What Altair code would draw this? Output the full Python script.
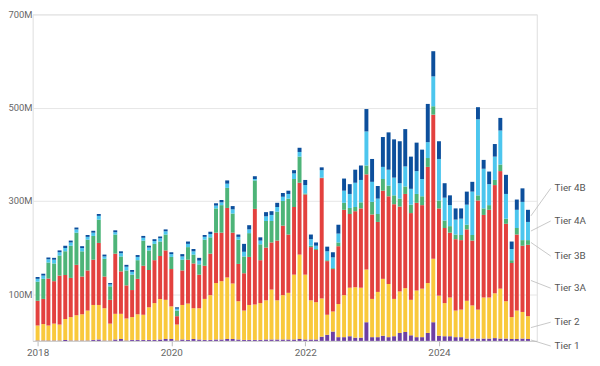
import altair as alt
import pandas as pd

# ---- data (values in millions), monthly Jan 2018 .. May 2025 ----
months = pd.date_range("2018-01-01", periods=89, freq="MS").strftime("%Y-%m-%d").tolist()

tiers = ["Tier 1", "Tier 2", "Tier 3A", "Tier 3B", "Tier 4A", "Tier 4B"]
colors = ["#6d3fa3", "#f9c93c", "#e3413e", "#4db478", "#4cc6ee", "#0c4f9c"]

tier1 = [1, 1, 1, 1, 1, 2, 1, 1, 1, 1, 2, 3, 1, 1, 3, 4, 1, 2, 2, 2, 2, 2, 3, 4,
         4, 1, 3, 2, 4, 3, 2, 2, 3, 3, 4, 4, 3, 2, 2, 2, 2, 3, 3, 3, 3, 3, 3, 4,
         3, 3, 3, 9, 13, 20, 8, 8, 10, 7, 7, 40, 8, 8, 11, 8, 10, 17, 19, 12, 8, 8,
         17, 40, 11, 10, 10, 8, 8, 5, 5, 5, 5, 5, 6, 5, 5, 4, 4, 5, 4]
tier2 = [32, 35, 32, 36, 34, 45, 50, 54, 56, 64, 75, 74, 69, 36, 55, 54, 47, 49, 55, 54,
         70, 79, 87, 84, 70, 34, 74, 78, 66, 67, 88, 96, 121, 125, 132, 119, 82, 63, 75, 76,
         79, 84, 107, 84, 95, 100, 139, 181, 139, 84, 80, 82, 43, 43, 71, 90, 104, 108, 107, 113,
         82, 97, 122, 114, 80, 89, 94, 76, 100, 104, 107, 136, 86, 71, 83, 57, 59, 81, 71, 62,
         88, 88, 96, 107, 80, 47, 61, 57, 49]
tier3a = [53, 54, 101, 91, 105, 94, 84, 108, 81, 86, 97, 133, 68, 51, 129, 91, 71, 58, 76, 105,
          80, 92, 92, 106, 80, 18, 74, 94, 96, 72, 71, 89, 108, 104, 149, 109, 80, 80, 103, 205,
          92, 113, 101, 128, 149, 125, 145, 154, 172, 114, 112, 258, 115, 91, 124, 183, 158, 163, 170, 204,
          181, 150, 189, 188, 203, 182, 202, 186, 188, 179, 249, 309, 187, 161, 139, 153, 149, 153, 139, 234,
          177, 188, 232, 252, 166, 116, 163, 142, 153]
tier3b = [41, 43, 34, 38, 43, 51, 69, 69, 54, 66, 51, 50, 38, 29, 41, 32, 32, 33, 40, 54,
          42, 35, 31, 34, 26, 12, 23, 27, 19, 22, 56, 35, 52, 59, 43, 41, 52, 36, 51, 61,
          34, 57, 46, 62, 53, 77, 60, 56, 2, 3, 2, 1, 2, 2, 8, 15, 13, 9, 13, 19,
          27, 17, 25, 23, 19, 17, 16, 18, 19, 19, 19, 18, 17, 16, 14, 10, 11, 10, 12, 11,
          14, 10, 11, 14, 11, 6, 14, 12, 10]
tier4a = [6, 7, 7, 8, 7, 7, 7, 7, 7, 6, 7, 8, 5, 4, 5, 7, 8, 6, 7, 6,
          6, 6, 7, 7, 6, 4, 7, 7, 7, 8, 6, 7, 6, 6, 9, 9, 6, 10, 8, 3,
          8, 10, 13, 10, 9, 10, 12, 10, 18, 14, 7, 16, 19, 23, 19, 26, 30, 52, 48, 73,
          43, 33, 26, 34, 38, 33, 43, 34, 49, 37, 34, 64, 89, 49, 45, 32, 35, 43, 93, 163,
          85, 45, 50, 73, 53, 24, 39, 82, 39]
tier4b = [4, 4, 4, 4, 4, 5, 4, 4, 4, 4, 4, 4, 4, 3, 4, 4, 4, 4, 4, 4,
          4, 4, 4, 4, 4, 3, 5, 5, 5, 6, 4, 5, 5, 5, 7, 7, 5, 17, 9, 6,
          7, 9, 8, 9, 8, 7, 7, 9, 11, 10, 7, 6, 10, 11, 19, 26, 21, 28, 31, 48,
          49, 27, 64, 80, 82, 90, 80, 69, 61, 63, 82, 54, 38, 31, 21, 24, 22, 28, 21, 26,
          19, 27, 27, 27, 41, 16, 22, 29, 26]

series = [tier1, tier2, tier3a, tier3b, tier4a, tier4b]

# label placement for the right-hand annotations (in axis units, layout only)
label_y = [-11, 40, 113, 182, 257, 327]

rows = []
for k, (name, vals) in enumerate(zip(tiers, series)):
    for d, v in zip(months, vals):
        rows.append({"date": d, "tier": name, "value": v, "order": k})
df = pd.DataFrame(rows)

# midpoints of the last bar's segments for leader lines
last = [s[-1] for s in series]
cum = 0
ann = []
for k, name in enumerate(tiers):
    mid = cum + last[k] / 2
    cum += last[k]
    ann.append({"date": months[-1], "tier": name, "mid": mid, "label_y": label_y[k]})
ann_df = pd.DataFrame(ann)

xscale = alt.Scale(
    type="utc",
    domain=[alt.DateTime(year=2018, month=1, date=1, utc=True),
            alt.DateTime(year=2025, month=5, date=22, utc=True)],
)
yscale = alt.Scale(domain=[0, 700], nice=False)

xaxis = alt.Axis(
    values=[alt.DateTime(year=y, month=1, date=1, utc=True) for y in (2018, 2020, 2022, 2024)],
    format="%Y", title=None, grid=False, domainColor="#cccccc", tickColor="#bbbbbb",
    tickSize=5, labelPadding=2, labelColor="#666666", labelFontSize=10,
)
yaxis = alt.Axis(
    values=[100, 300, 500, 700], labelExpr="datum.value + 'M'", title=None,
    domain=False, ticks=False, grid=True, gridColor="#e6e6e6", labelColor="#666666",
    labelFontSize=9.5, labelAlign="left", labelPadding=25,
)

bars = alt.Chart(df).mark_bar(size=4).encode(
    x=alt.X("date:T", scale=xscale, axis=xaxis),
    y=alt.Y("value:Q", stack="zero", scale=yscale, axis=yaxis),
    color=alt.Color("tier:N", scale=alt.Scale(domain=tiers, range=colors), legend=None),
    order=alt.Order("order:Q", sort="ascending"),
)

leaders = alt.Chart(ann_df).mark_rule(
    color="#bbbbbb", strokeWidth=0.8, xOffset=3, x2Offset=23
).encode(
    x=alt.X("date:T", scale=xscale),
    x2=alt.X2("date"),
    y=alt.Y("mid:Q", scale=yscale),
    y2=alt.Y2("label_y"),
)

labels = alt.Chart(ann_df).mark_text(
    align="left", baseline="middle", dx=27, fontSize=10, color="#555555"
).encode(
    x=alt.X("date:T", scale=xscale),
    y=alt.Y("label_y:Q", scale=yscale),
    text="tier:N",
)

chart = alt.layer(bars, leaders, labels).properties(
    width=511,
    height=331,
    padding={"left": 25, "top": 4, "right": 56, "bottom": 22},
    autosize=alt.AutoSizeParams(type="none"),
).configure_view(stroke=None).configure(font="Roboto")

chart.save("out.html", embed_options={"renderer": "svg", "actions": False})
